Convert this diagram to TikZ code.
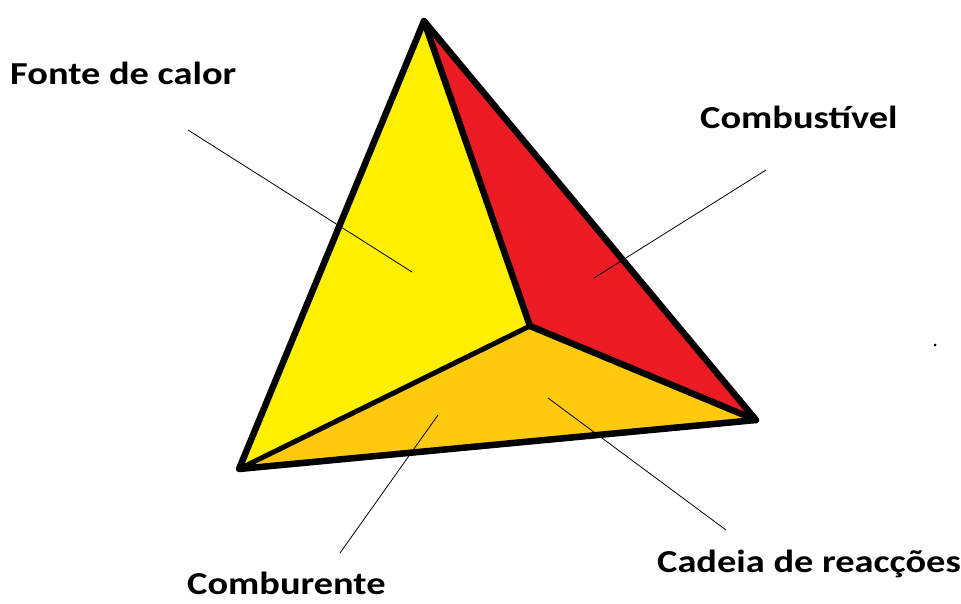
\documentclass[tikz,border=0pt]{standalone}
\usepackage{fontspec}
\setmainfont{Carlito}[FakeStretch=1.2]
\usepackage{xcolor}
\usetikzlibrary{calc}

\definecolor{facesun}{RGB}{255,240,0}
\definecolor{facefire}{RGB}{237,28,36}
\definecolor{facegold}{RGB}{255,201,14}

\begin{document}
\begin{tikzpicture}[x=1pt, y=-1pt,
  edge/.style={line width=6.5pt, line join=round, line cap=round},
  lab/.style={font=\fontsize{32}{36}\selectfont\bfseries, inner sep=0pt, anchor=base west},
  lead/.style={line width=0.8pt}]
  \useasboundingbox (0,0) rectangle (961,603);
  % corners of the tetrahedron
  \coordinate (top) at (424,21);
  \coordinate (left) at (239,469);
  \coordinate (right) at (756,420);
  \coordinate (mid) at (530,326);
  % faces
  \fill[facesun] (top) -- (left) -- (mid) -- cycle;
  \fill[facefire] (top) -- (mid) -- (right) -- cycle;
  \fill[facegold] (left) -- (mid) -- (right) -- cycle;
  % edges
  \draw[edge] (top) -- (left) -- (right) -- cycle;
  \draw[edge, line width=5.5pt] (left) -- (right);
  \draw[edge] (top) -- (mid) -- (right);
  \draw[edge, line width=5pt] (mid) -- (left);
  % labels
  \node[lab] (heat) at (10,84) {Fonte de calor};
  \node[lab] (fuel) at (700,128) {Combustível};
  \node[lab] (oxy) at (187,594) {Comburente};
  \node[lab] (chain) at (657,572) {Cadeia de reacções};
  % leader lines
  \coordinate (heatA) at (188,130);  \coordinate (heatB) at (412,272);
  \coordinate (fuelA) at (766,170);  \coordinate (fuelB) at (594,278);
  \coordinate (oxyA) at (340,553);   \coordinate (oxyB) at (438,415);
  \coordinate (chainA) at (726,530); \coordinate (chainB) at (548,398);
  \draw[lead] (heatA) -- (heatB);
  \draw[lead] (fuelA) -- (fuelB);
  \draw[lead] (oxyA) -- (oxyB);
  \draw[lead] (chainA) -- (chainB);
  % stray dot
  \fill (935,345) circle (1.5);
\end{tikzpicture}
\end{document}
